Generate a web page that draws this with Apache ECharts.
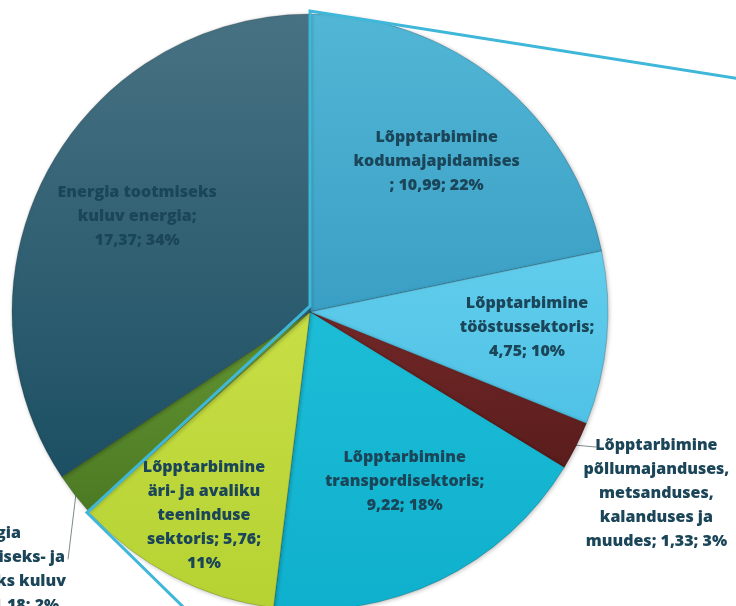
<!DOCTYPE html>
<html><head><meta charset="utf-8">
<script src="https://cdn.jsdelivr.net/npm/echarts@6/dist/echarts.min.js"></script>
<style>html,body{margin:0;padding:0;background:#fff}#c{width:736px;height:606px}</style>
</head><body><div id="c"></div>
<script>
// ---- data ----
const categories = [
  'Lõpptarbimine kodumajapidamises',
  'Lõpptarbimine tööstussektoris',
  'Lõpptarbimine põllumajanduses, metsanduses, kalanduses ja muudes',
  'Lõpptarbimine transpordisektoris',
  'Lõpptarbimine äri- ja avaliku teeninduse sektoris',
  'Energia ülekandmiseks- ja jaotamiseks kuluv energia',
  'Energia tootmiseks kuluv energia'
];
const values = [10.99, 4.75, 1.33, 9.22, 5.76, 1.18, 17.37];
// wrapped label text ({v} = value, {p} = percent)
const labelTemplates = [
  'Lõpptarbimine\nkodumajapidamises\n; {v}; {p}',
  'Lõpptarbimine\ntööstussektoris;\n{v}; {p}',
  'Lõpptarbimine\npõllumajanduses,\nmetsanduses,\nkalanduses ja\nmuudes; {v}; {p}',
  'Lõpptarbimine\ntranspordisektoris;\n{v}; {p}',
  'Lõpptarbimine\näri- ja avaliku\nteeninduse\nsektoris; {v};\n{p}',
  'Energia\nülekandmiseks- ja\njaotamiseks kuluv\nenergia; {v}; {p}',
  'Energia tootmiseks\nkuluv energia;\n{v}; {p}'
];

// ---- styles ----
const colorTop = ['#52b6d6', '#62cdec', '#722828', '#1dbdd7', '#c8de45', '#639532', '#477283'];
const colorBot = ['#3a9fc4', '#4fc2e6', '#5a1c1c', '#0fb0cd', '#b5d232', '#4c7a24', '#1c4f63'];
const outside = [false, false, true, false, false, true, false];
const labelFrac = [0.66, 0.73, null, 0.65, 0.77, null, 0.662];
const labelAngleAdj = [1, -1, 0, -3.5, 0, 0, 0.6];
const CX = 310, CY = 312, R = 298;
const textColor = '#1b4558';

const total = values.reduce((a, b) => a + b, 0);
function angStart(i) { let s = 0; for (let k = 0; k < i; k++) s += values[k]; return s / total * 2 * Math.PI; }
function midAngle(i) { return angStart(i) + values[i] / total * Math.PI; }
function pt(a, r) { return [CX + r * Math.sin(a), CY - r * Math.cos(a)]; }

const data = categories.map((name, i) => ({
  name: name,
  value: values[i],
  itemStyle: {
    color: new echarts.graphic.LinearGradient(0, 0, 0, 1, [
      { offset: 0, color: colorTop[i] }, { offset: 1, color: colorBot[i] }
    ])
  },
  label: { position: outside[i] ? 'outside' : 'inside' },
  labelLine: { show: outside[i] }
}));

const chart = echarts.init(document.getElementById('c'), null, { renderer: 'canvas' });

// connector outline lines (pie-of-pie style), derived from pie geometry
const topPt = pt(0, R + 3);
const groupEnd = pt(angStart(5), R + 2);
const farRight = [topPt[0] + 500, topPt[1] + 500 * 0.158];
const farLow = [groupEnd[0] + 150, groupEnd[1] + 150 * 0.98];

chart.setOption({
  backgroundColor: '#ffffff',
  animation: false,
  series: [{
    type: 'pie',
    center: [CX, CY],
    radius: [0, R],
    startAngle: 90,
    clockwise: true,
    avoidLabelOverlap: false,
    percentPrecision: 0,
    data: data,
    itemStyle: {
      borderColor: 'rgba(0,0,0,0.18)',
      borderWidth: 1,
      shadowBlur: 4,
      shadowColor: 'rgba(0,0,0,0.25)',
      shadowOffsetX: 1,
      shadowOffsetY: 1
    },
    label: {
      show: true,
      fontFamily: 'Open Sans',
      fontWeight: 800,
      fontSize: 16,
      lineHeight: 24,
      color: textColor,
      align: 'center',
      formatter: (p) => labelTemplates[p.dataIndex]
        .replace('{v}', p.value.toFixed(2).replace('.', ','))
        .replace('{p}', p.percent + '%')
    },
    labelLine: {
      lineStyle: { color: '#7d8a8e', width: 1 }
    },
    emphasis: { disabled: true },
    labelLayout: function (params) {
      const i = params.dataIndex;
      const a = midAngle(i);
      if (!outside[i]) {
        const p = pt(a + labelAngleAdj[i] * Math.PI / 180, R * labelFrac[i]);
        return { x: p[0], y: p[1], align: 'center', verticalAlign: 'middle' };
      }
      const E = pt(a, R - 2);
      if (i === 2) {
        const P = [E[0] + 22, E[1] + 2];
        return {
          x: P[0] + 60, y: P[1] + 46, align: 'center', verticalAlign: 'middle',
          labelLinePoints: [E, [(E[0] + P[0]) / 2, (E[1] + P[1]) / 2], P]
        };
      }
      const P = [E[0] - 8, E[1] + 66];
      return {
        x: P[0] - 78, y: P[1] + 10, align: 'center', verticalAlign: 'middle',
        labelLinePoints: [E, [(E[0] + P[0]) / 2, (E[1] + P[1]) / 2], P]
      };
    }
  }],
  graphic: [{
    type: 'polyline',
    z: 100,
    silent: true,
    shape: { points: [farRight, topPt, [CX, CY - 6], groupEnd, farLow] },
    style: { stroke: '#3fb7d8', lineWidth: 3, fill: null, lineJoin: 'miter' }
  }]
});
</script>
</body></html>
